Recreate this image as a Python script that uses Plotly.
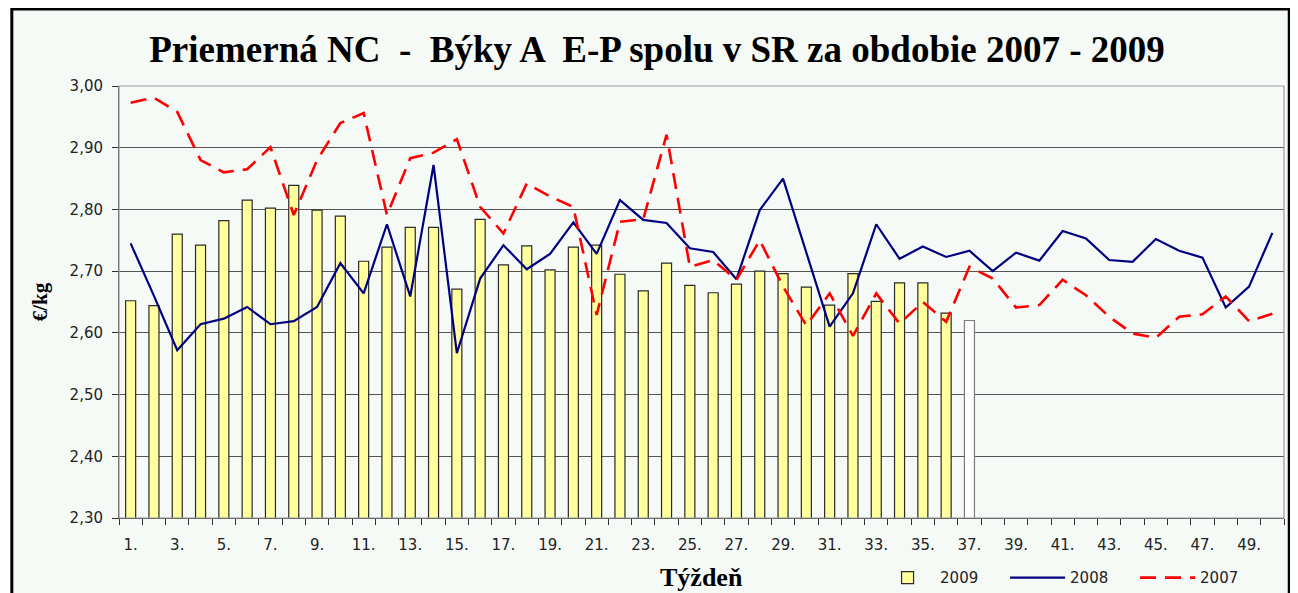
import plotly.graph_objects as go

weeks = list(range(1, 51))
tick_weeks = list(range(1, 50, 2))
tick_labels = [f"{w}." for w in tick_weeks]
x_title = "Týždeň"

y2009 = [2.652, 2.644, 2.760, 2.742, 2.782, 2.815, 2.802, 2.839, 2.799, 2.789,
         2.716, 2.739, 2.771, 2.771, 2.671, 2.784, 2.710, 2.741, 2.702, 2.739,
         2.742, 2.695, 2.668, 2.713, 2.677, 2.665, 2.679, 2.700, 2.696, 2.674,
         2.645, 2.696, 2.651, 2.681, 2.681, 2.632, 2.620]

y2008 = [2.745, 2.660, 2.572, 2.614, 2.623, 2.642, 2.614, 2.619, 2.642, 2.713,
         2.664, 2.776, 2.659, 2.872, 2.567, 2.688, 2.742, 2.703, 2.728, 2.779,
         2.728, 2.815, 2.783, 2.778, 2.737, 2.731, 2.687, 2.799, 2.850, 2.730,
         2.610, 2.664, 2.776, 2.720, 2.740, 2.723, 2.733, 2.700, 2.730, 2.717,
         2.765, 2.753, 2.718, 2.715, 2.752, 2.733, 2.722, 2.641, 2.675, 2.762]

y2007 = [2.973, 2.981, 2.958, 2.880, 2.860, 2.865, 2.901, 2.791, 2.880, 2.940,
         2.956, 2.791, 2.883, 2.892, 2.914, 2.804, 2.761, 2.842, 2.821, 2.804,
         2.629, 2.780, 2.784, 2.921, 2.707, 2.718, 2.686, 2.750, 2.675, 2.612,
         2.664, 2.595, 2.664, 2.615, 2.650, 2.618, 2.707, 2.688, 2.641, 2.645,
         2.686, 2.661, 2.626, 2.599, 2.592, 2.626, 2.630, 2.659, 2.619, 2.631]

bar_fill = ["#FFFF9E"] * 36 + ["#FFFFFF"]
bar_edge = ["#2a2a2a"] * 36 + ["#7a7a7a"]

BG = "#F5FAF7"
SANS = "DejaVu Sans"
SERIF = "Liberation Serif"

fig = go.Figure()
fig.add_trace(go.Bar(
    x=weeks[:len(y2009)], y=y2009, name="2009", width=0.43,
    marker=dict(color=bar_fill, line=dict(color=bar_edge, width=1.2)),
))
fig.add_trace(go.Scatter(
    x=weeks, y=y2008, name="2008", mode="lines",
    line=dict(color="#000080", width=2.2),
))
fig.add_trace(go.Scatter(
    x=weeks, y=y2007, name="2007", mode="lines",
    line=dict(color="#FF0000", width=2.6, dash="16px,9px"),
))

fig.update_layout(
    width=1298, height=593,
    margin=dict(l=111, r=22, t=78, b=83, autoexpand=False),
    paper_bgcolor="#FFFFFF",
    plot_bgcolor=BG,
    separators=", ",
    barmode="overlay",
    title=dict(
        text="<b>Priemerná NC  -  Býky A  E-P spolu v SR za obdobie 2007 - 2009</b>",
        font=dict(family=SERIF, size=37, color="#000000"),
        x=0.5, xref="container", xanchor="center",
        y=0.93, yref="container", yanchor="middle",
    ),
    xaxis=dict(
        range=[0.5, 50.5], automargin=False,
        tickmode="array", tickvals=tick_weeks, ticktext=tick_labels,
        ticks="", showgrid=False, zeroline=False,
        showline=True, linecolor="#404040", linewidth=1,
        tickfont=dict(family=SANS, size=15, color="#222222"),
        minor=dict(ticks="outside", tick0=0.5, dtick=1, ticklen=6,
                   tickcolor="#303030", tickwidth=1, showgrid=False),
        ticklabelstandoff=13,
    ),
    yaxis=dict(
        range=[2.30, 3.00], dtick=0.1, tick0=2.3, tickformat=".2f", automargin=False,
        ticks="outside", ticklen=6, tickcolor="#303030", ticklabelstandoff=6,
        showgrid=True, gridcolor="#555555", gridwidth=1.2,
        zeroline=False, showline=True, linecolor="#404040", linewidth=1,
        tickfont=dict(family=SANS, size=15, color="#222222"),
        title=dict(text="<b>€/kg</b>", font=dict(family=SERIF, size=21, color="#000000"),
                   standoff=16),
    ),
    annotations=[
        dict(text=f"<b>{x_title}</b>", xref="paper", yref="paper",
             x=0.5, y=-0.137, xanchor="center", yanchor="middle", showarrow=False,
             font=dict(family=SERIF, size=26, color="#000000")),
    ],
    legend=dict(
        orientation="h", xref="container", yref="container",
        x=0.668, y=0.039, xanchor="left", yanchor="middle",
        font=dict(family=SANS, size=15, color="#222222"),
        bgcolor="rgba(0,0,0,0)", itemwidth=55, traceorder="normal",
        entrywidth=60, entrywidthmode="pixels",
    ),
    showlegend=True,
    shapes=[
        dict(type="rect", xref="paper", yref="paper",
             x0=-0.092, x1=1.0045, y0=-0.3, y1=1.178,
             line=dict(color="#000000", width=3), fillcolor=BG, layer="below"),
        dict(type="rect", xref="paper", yref="paper",
             x0=0, x1=1, y0=0, y1=1,
             line=dict(color="#9a9a9a", width=1.2), fillcolor="rgba(0,0,0,0)", layer="above"),
    ],
)

fig.write_html("out.html")
